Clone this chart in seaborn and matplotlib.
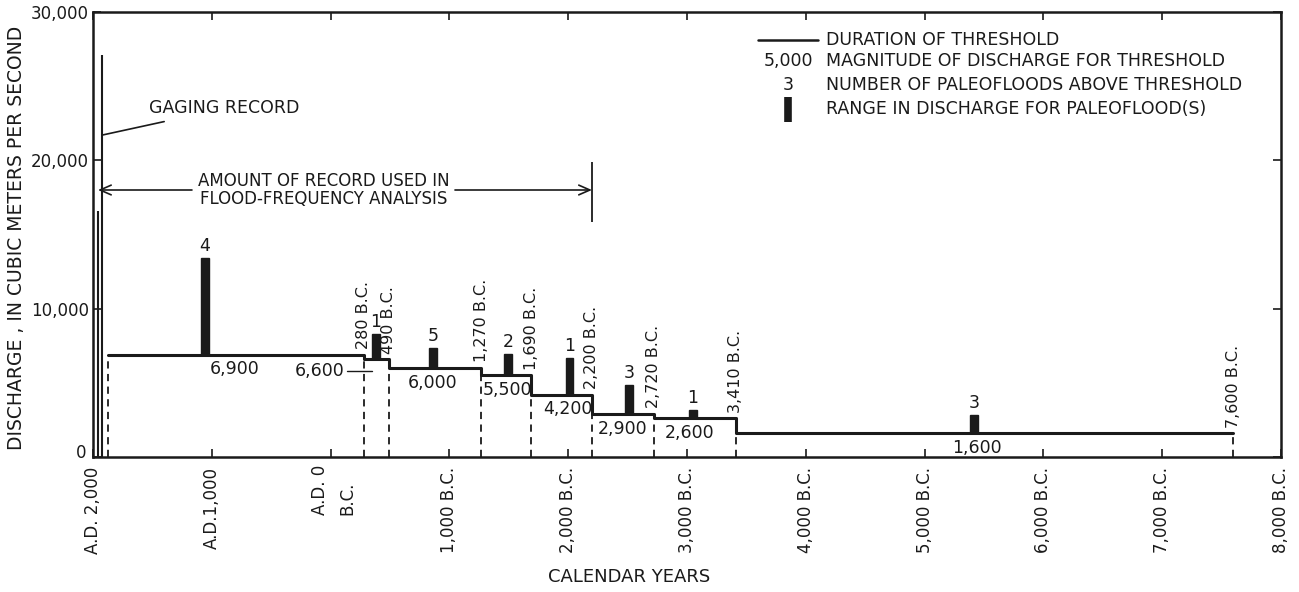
import numpy as np
import pandas as pd
import matplotlib
matplotlib.use("Agg")
import matplotlib.pyplot as plt
import matplotlib.transforms as mtransforms
import seaborn as sns

# ---------------- data ----------------
# threshold periods (calendar year; negative = B.C.)
step_bounds = [1875, -280, -490, -1270, -1690, -2200, -2720, -3410, -7600]
step_levels = [6900, 6600, 6000, 5500, 4200, 2900, 2600, 1600]
step_bound_labels = ["280 B.C.", "490 B.C.", "1,270 B.C.", "1,690 B.C.",
                     "2,200 B.C.", "2,720 B.C.", "3,410 B.C.", "7,600 B.C."]
level_labels = ["6,900", "6,600", "6,000", "5,500", "4,200", "2,900", "2,600", "1,600"]
level_label_x = [805, None, -862, -1485, -1998, -2461, -3025, -5441]

# paleofloods: year, low, high, count
flood_year = [1057, -382, -862, -1493, -2010, -2512, -3050, -5416]
flood_low = [6900, 6600, 6000, 5500, 4200, 2900, 2600, 1600]
flood_high = [13400, 8300, 7350, 6950, 6700, 4850, 3200, 2850]
flood_count = ["4", "1", "5", "2", "1", "3", "1", "3"]

# gaging record peaks
gage_year = [1958, 1924]
gage_q = [16600, 27100]

x_ticks = [2000, 1000, 0, -1000, -2000, -3000, -4000, -5000, -6000, -7000, -8000]
x_tick_labels = ["A.D. 2,000", "A.D.1,000", "", "1,000 B.C.", "2,000 B.C.", "3,000 B.C.",
                 "4,000 B.C.", "5,000 B.C.", "6,000 B.C.", "7,000 B.C.", "8,000 B.C."]
y_ticks = [0, 10000, 20000, 30000]
y_tick_labels = ["0", "10,000", "20,000", "30,000"]

# ---------------- style ----------------
sns.set_style("ticks")
plt.rcParams["font.family"] = ["DejaVu Sans"]
FS = 12
FL = 12.5
INK = "#1a1a1a"

fig = plt.figure(figsize=(12.99, 5.92), dpi=100)
ax = fig.add_axes([93 / 1299, 1 - 457 / 592, (1281 - 93) / 1299, (457 - 12) / 592])

# threshold step line
df_step = pd.DataFrame({"year": step_bounds,
                        "q": step_levels + [step_levels[-1]]})
sns.lineplot(data=df_step, x="year", y="q", drawstyle="steps-post", sort=False,
             estimator=None, color=INK, lw=2.2, ax=ax)

# dashed verticals at boundaries
dash_tops = [step_levels[0]] + step_levels[1:] + [step_levels[-1]]
ax.vlines(step_bounds, 0, dash_tops, colors=INK, lw=1.3, linestyles=(0, (4, 3)))

# year labels at boundaries
for b, lev, lab in zip(step_bounds[1:], step_levels, step_bound_labels):
    ax.annotate(lab, (b, lev), xytext=(0, 4), textcoords="offset points",
                rotation=90, ha="center", va="bottom", fontsize=11.5, color=INK)

# level labels
for lab, lx, lev in zip(level_labels, level_label_x, step_levels):
    if lx is None:
        continue
    ax.annotate(lab, (lx, lev), xytext=(0, -4), textcoords="offset points",
                ha="center", va="top", fontsize=FL, color=INK)
# 6,600 label with leader
ax.text(-121, 5800, "6,600", ha="right", va="center", fontsize=FL, color=INK)
ax.plot([-138, -349], [5800, 5800], color=INK, lw=1.0)

# paleoflood range bars
df_fl = pd.DataFrame({"year": flood_year, "low": flood_low, "high": flood_high})
ax.bar(df_fl["year"], df_fl["high"] - df_fl["low"], bottom=df_fl["low"],
       width=62, color=INK, edgecolor=INK)
for x, h, c in zip(flood_year, flood_high, flood_count):
    ax.annotate(c, (x, h), xytext=(0, 2), textcoords="offset points",
                ha="center", va="bottom", fontsize=FL, color=INK)

# gaging record
ax.vlines(gage_year, 0, gage_q, colors=INK, lw=1.5)
ax.annotate("GAGING RECORD", xy=(1924, 21700), xytext=(1525, 23500),
            ha="left", va="center", fontsize=FL, color=INK,
            arrowprops=dict(arrowstyle="-", color=INK, lw=1.2, shrinkA=3, shrinkB=0))

# amount of record arrow
ax.text(55, 18000, "AMOUNT OF RECORD USED IN\nFLOOD-FREQUENCY ANALYSIS",
        ha="center", va="center", fontsize=FS, color=INK, linespacing=1.0)
ax.annotate("", xy=(1958, 18000), xytext=(1167, 18000),
            arrowprops=dict(arrowstyle="->,head_length=0.8,head_width=0.35",
                            color=INK, lw=1.2, shrinkA=0, shrinkB=0))
ax.annotate("", xy=(-2200, 18000), xytext=(-1047, 18000),
            arrowprops=dict(arrowstyle="->,head_length=0.8,head_width=0.35",
                            color=INK, lw=1.2, shrinkA=0, shrinkB=0))
ax.vlines([-2200], 15850, 19900, colors=INK, lw=1.3)

# axes
ax.set_xlim(2000, -8000)
ax.set_ylim(0, 30000)
ax.set_xticks(x_ticks)
ax.set_xticklabels(x_tick_labels, rotation=90, va="top", ha="center", fontsize=FS)
ax.set_yticks(y_ticks)
ax.set_yticklabels(y_tick_labels, fontsize=FS)
ax.tick_params(axis="both", direction="in", length=6, width=1.2, colors=INK,
               top=True, right=True)
ax.tick_params(axis="x", pad=7)
ax.tick_params(axis="y", pad=3)
for s in ax.spines.values():
    s.set_visible(True)
    s.set_linewidth(1.8)
    s.set_color(INK)
# lift the "0" y label a little so it clears the first x label
zero_lab = ax.get_yticklabels()[0]
zero_lab.set_transform(zero_lab.get_transform() +
                       mtransforms.ScaledTranslation(-2 / 72, 4 / 72, fig.dpi_scale_trans))
ax.set_xlabel("")
ax.set_ylabel("")
fig.text(17 / 1299, 1 - 238 / 592, "DISCHARGE , IN CUBIC METERS PER SECOND",
         rotation=90, ha="center", va="center", fontsize=13.5, color=INK)

# A.D. 0 / B.C. split label
trans = ax.get_xaxis_transform()
ax.text(89, -0.130, "A.D. 0", transform=trans, rotation=90, ha="center", va="bottom",
        fontsize=FS, color=INK)
ax.text(-138, -0.130, "B.C.", transform=trans, rotation=90, ha="center", va="bottom",
        fontsize=FS, color=INK)

fig.text(629 / 1299, 1 - 577 / 592, "CALENDAR YEARS", ha="center", va="center",
         fontsize=13, color=INK)

# legend (manual, axes fraction)
ta = ax.transAxes
ax.plot([0.560, 0.610], [0.937, 0.937], color=INK, lw=1.8, transform=ta)
rows_y = [0.937, 0.890, 0.836, 0.782]
legend_texts = ["DURATION OF THRESHOLD", "MAGNITUDE OF DISCHARGE FOR THRESHOLD",
                "NUMBER OF PALEOFLOODS ABOVE THRESHOLD", "RANGE IN DISCHARGE FOR PALEOFLOOD(S)"]
for yy, t in zip(rows_y, legend_texts):
    ax.text(0.617, yy, t, transform=ta, ha="left", va="center", fontsize=FL, color=INK)
ax.text(0.585, rows_y[1], "5,000", transform=ta, ha="center", va="center", fontsize=FL, color=INK)
ax.text(0.585, rows_y[2], "3", transform=ta, ha="center", va="center", fontsize=FL, color=INK)
ax.plot([0.585, 0.585], [0.753, 0.809], color=INK, lw=5.5, solid_capstyle="butt", transform=ta)

fig.savefig("out.png", dpi=100, facecolor="white")
